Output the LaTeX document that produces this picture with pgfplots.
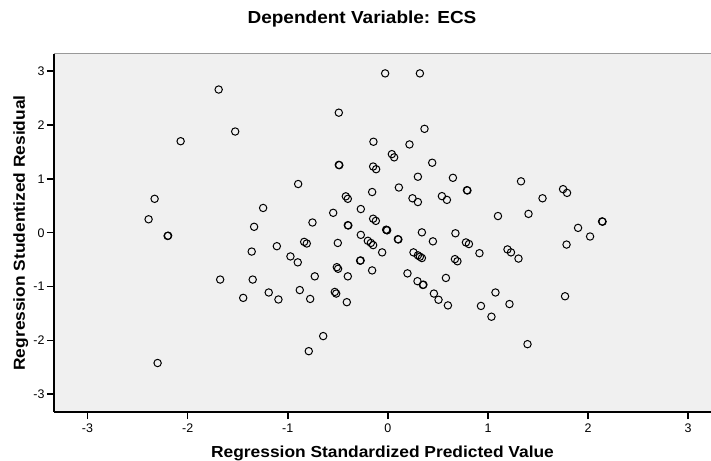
\documentclass[border=0pt]{standalone}
\usepackage{fontspec}
\setmainfont{Liberation Sans}
\newfontfamily\lblfont[FakeStretch=1.09]{Liberation Sans}
\usepackage{pgfplots}
\pgfplotsset{compat=1.18}

\definecolor{plotbg}{HTML}{F0F0F0}
\definecolor{topline}{HTML}{999999}

\begin{document}
\begin{tikzpicture}
\begin{axis}[
    name=ax,
    scale only axis,
    width=657bp, height=358bp,
    xmin=-3.335, xmax=3.228,
    ymin=-3.33, ymax=3.32,
    xtick={-3,...,3}, ytick={-3,...,3},
    axis x line*=bottom, axis y line*=left,
    axis line style={line width=1.5bp, black},
    tick style={line width=1.5bp, black},
    tick align=outside,
    major tick length=7bp,
    axis background/.style={fill=plotbg},
    /pgf/number format/assume math mode=true,
    ticklabel style={font=\fontsize{12.5}{14}\selectfont},
    xticklabel style={yshift=-1bp},
    yticklabel style={xshift=1bp},
    title={Dependent Variable: ECS},
    title style={at={([xshift=-20.5bp,yshift=25bp]axis description cs:0.5,1)}, anchor=base,
        font=\lblfont\bfseries\fontsize{17.5}{20}\selectfont},
    xlabel={Regression Standardized Predicted Value},
    xlabel style={at={([yshift=-45bp]axis description cs:0.5,0)}, anchor=base,
        font=\lblfont\bfseries\fontsize{16}{18}\selectfont},
    ylabel={Regression Studentized Residual},
    ylabel style={at={([xshift=-29bp]axis description cs:0,0.5)}, anchor=base,
        font=\lblfont\bfseries\fontsize{16}{18}\selectfont},
    after end axis/.code={
        \draw[topline, line width=1bp] (rel axis cs:0,1) -- (rel axis cs:1,1);
    },
]
\addplot[only marks, mark=o, mark size=3.7bp, mark options={line width=1bp, black}]
coordinates {
(-1.69,2.66) (-1.525,1.88) (-2.07,1.70) (-2.33,0.63) (-2.39,0.25)
(-2.20,-0.06) (-2.195,-0.055) (-1.246,0.46) (-1.336,0.11) (-2.30,-2.42)
(-1.109,-0.25) (-1.36,-0.35) (-1.675,-0.87) (-1.35,-0.87) (-1.19,-1.11)
(-1.445,-1.21) (-1.093,-1.24)
(-0.027,2.96) (0.32,2.96) (-0.49,2.23) (0.366,1.93) (-0.144,1.69)
(0.216,1.64) (0.04,1.46) (0.063,1.40) (-0.49,1.26) (-0.485,1.255)
(-0.147,1.23) (-0.117,1.18) (0.443,1.30) (-0.896,0.905) (0.30,1.04)
(0.65,1.02) (0.79,0.79) (0.795,0.785) (-0.157,0.756) (0.11,0.84)
(-0.42,0.676) (-0.40,0.63) (0.246,0.64) (0.30,0.57) (0.54,0.68)
(0.59,0.61) (1.10,0.31) (-0.753,0.19) (-0.546,0.37) (-0.27,0.44)
(-0.40,0.14) (-0.395,0.135) (-0.147,0.26) (-0.12,0.22)
(-0.017,0.056) (-0.012,0.05) (-0.007,0.045) (-0.27,-0.04) (0.34,0.007)
(0.675,-0.01)
(-0.836,-0.17) (-0.81,-0.20) (-0.973,-0.44) (-0.90,-0.55) (-0.50,-0.19)
(-0.20,-0.15) (-0.17,-0.19) (-0.147,-0.23) (0.10,-0.12) (0.105,-0.125)
(0.45,-0.16) (0.78,-0.18) (0.81,-0.21) (0.915,-0.38) (-0.057,-0.365)
(0.256,-0.365) (0.30,-0.42) (0.32,-0.446) (0.34,-0.47) (0.67,-0.49)
(0.695,-0.53) (-0.277,-0.52) (-0.272,-0.515) (-0.51,-0.64) (-0.497,-0.67)
(-0.157,-0.70) (-0.40,-0.81) (-0.73,-0.81) (0.196,-0.755) (0.58,-0.84)
(0.296,-0.90) (0.35,-0.97) (0.355,-0.965) (-0.88,-1.065) (-0.776,-1.23)
(-0.53,-1.10) (-0.516,-1.13) (-0.41,-1.29) (0.46,-1.13) (0.506,-1.245)
(0.60,-1.35) (1.075,-1.11) (0.93,-1.36) (1.035,-1.56) (-0.646,-1.92)
(-0.79,-2.20)
(1.33,0.955) (1.545,0.64) (1.75,0.81) (1.79,0.74) (1.405,0.35)
(1.90,0.09) (2.14,0.21) (2.145,0.205) (2.02,-0.07) (1.195,-0.31)
(1.23,-0.365) (1.305,-0.48) (1.785,-0.22) (1.215,-1.325) (1.77,-1.18)
(1.395,-2.07)
};
\end{axis}
\pgfresetboundingbox
\path[use as bounding box] ([shift={(-54bp,-49bp)}]ax.south west) rectangle ([shift={(0bp,54bp)}]ax.north east);
\end{tikzpicture}
\end{document}
